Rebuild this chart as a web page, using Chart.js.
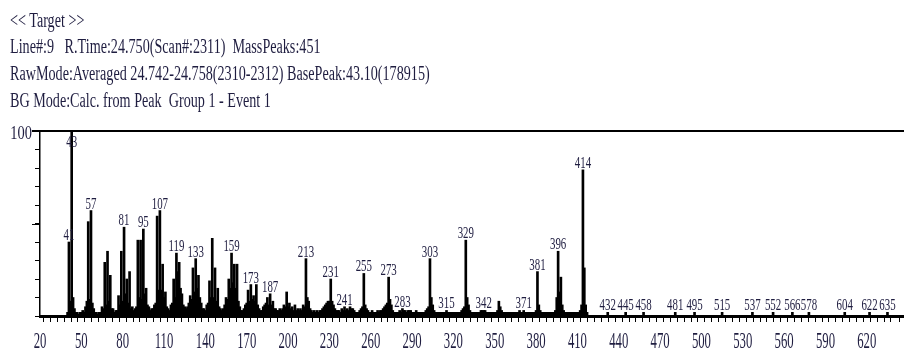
<!DOCTYPE html>
<html>
<head>
<meta charset="utf-8">
<script src="https://cdn.jsdelivr.net/npm/chart.js@4"></script>
<style>
  html, body { margin: 0; padding: 0; background: #fff; }
  #wrap { position: relative; width: 904px; height: 354px; overflow: hidden; }
  #chartBox { position: absolute; left: 0; top: 0; width: 904px; height: 354px; }
  .hdr {
    position: absolute; left: 10px; white-space: pre;
    font-family: "Liberation Serif", "Times New Roman", serif;
    font-size: 20.5px; line-height: 20.5px; color: #1f1d40;
    transform: scaleX(0.69); transform-origin: 0 0;
  }
</style>
</head>
<body>
<div id="wrap">
  <div id="chartBox"><canvas id="msChart"></canvas></div>
  <div class="hdr" style="top:10px">&lt;&lt; Target &gt;&gt;</div>
  <div class="hdr" style="top:36px">Line#:9   R.Time:24.750(Scan#:2311)  MassPeaks:451</div>
  <div class="hdr" style="top:63px">RawMode:Averaged 24.742-24.758(2310-2312) BasePeak:43.10(178915)</div>
  <div class="hdr" style="top:90px">BG Mode:Calc. from Peak  Group 1 - Event 1</div>
</div>
<script>
// m/z values and relative intensities (%)
const mzValues = [
  40,41,42,43,44,45,46,47,48,49,50,51,52,53,54,55,56,57,58,59,
  60,61,62,63,64,65,66,67,68,69,70,71,72,73,74,75,76,77,78,79,
  80,81,82,83,84,85,86,87,88,89,90,91,92,93,94,95,96,97,98,99,
  100,101,102,103,104,105,106,107,108,109,110,111,112,113,114,115,116,117,118,119,
  120,121,122,123,124,125,126,127,128,129,130,131,132,133,134,135,136,137,138,139,
  140,141,142,143,144,145,146,147,148,149,150,151,152,153,154,155,156,157,158,159,
  160,161,162,163,164,165,166,167,168,169,170,171,172,173,174,175,176,177,178,179,
  180,181,182,183,184,185,186,187,188,189,190,191,192,193,194,195,196,197,198,199,
  200,201,202,203,204,205,206,207,208,209,210,211,212,213,214,215,216,217,218,219,
  220,221,222,223,224,225,226,227,228,229,230,231,232,233,234,235,236,237,238,239,
  240,241,242,243,244,245,246,247,248,249,250,251,252,253,254,255,256,257,258,259,
  260,261,262,263,264,265,266,267,268,269,270,271,272,273,274,275,276,277,278,279,
  280,281,282,283,284,285,286,287,288,289,290,291,292,293,294,295,296,297,298,299,
  300,301,302,303,304,305,306,307,308,309,310,311,312,313,314,315,316,317,318,319,
  320,321,322,323,324,325,326,327,328,329,330,331,332,333,334,335,336,337,338,339,
  340,341,342,343,344,345,346,347,348,349,350,351,352,353,354,355,356,357,358,359,
  360,361,362,363,364,365,366,367,368,369,370,371,372,373,374,375,376,377,378,379,
  380,381,382,383,384,385,386,387,388,389,390,391,392,393,394,395,396,397,398,399,
  400,401,402,403,404,405,406,407,408,409,410,411,412,413,414,415,416,417,
  432,445,458,481,495,515,537,552,566,578,604,622,635
];
const intensities = [
  2,40,8,100,10,4,2,2,1,2, 2,3,2,5,8,51,9,57,7,4,
  2,2,1,2,2,5,4,29,6,35, 8,22,4,4,2,3,3,11,6,35,
  8,48,12,20,7,24,4,5,3,4, 5,41,10,41,9,47,12,15,6,5,
  3,4,4,6,7,54,14,57,14,28, 10,13,5,4,3,6,7,20,10,34,
  24,29,15,12,6,5,4,5,7,11, 9,26,13,31,15,22,10,7,4,4,
  3,6,7,19,10,42,10,26,8,15, 5,4,3,4,6,10,9,20,15,34,
  18,28,15,28,8,5,3,3,4,6, 7,14,8,17,9,11,8,17,6,4,
  3,3,5,6,7,10,6,12,6,8, 4,4,3,3,4,3,4,6,5,13,
  5,7,4,5,3,6,3,4,3,4, 3,6,5,31,10,8,4,3,2,3,
  2,3,2,3,3,4,5,6,7,8, 8,20,8,6,4,3,3,3,2,4,
  3,5,3,4,3,5,4,4,3,2, 2,2,3,4,5,23,6,4,3,2,
  2,3,2,2,2,3,2,3,3,4, 5,6,7,21,9,6,3,2,2,2,
  2,3,2,4,3,3,2,3,3,3, 2,2,2,3,2,2,2,2,2,2,
  3,4,5,31,10,6,3,2,2,2, 2,2,2,2,2,3,2,2,2,2,
  2,2,2,2,2,2,3,4,5,41, 10,6,3,2,2,2,2,2,2,2,
  3,3,3,3,2,2,2,2,2,2, 2,2,3,8,5,3,2,2,2,2,
  2,2,2,2,2,2,2,2,3,2, 2,3,2,2,2,2,2,2,2,2,
  3,24,6,3,2,2,2,2,2,2, 2,2,2,2,3,10,35,13,21,6,
  3,2,2,2,2,2,2,2,2,2, 2,2,3,6,79,26,6,2,
  2,2,2,2,2,2,2,2,2,2,2,2,2
];
// peaks that carry an m/z label
const labeledPeaks = [41,43,57,81,95,107,119,133,159,173,187,213,231,241,255,273,283,
  303,315,329,342,371,381,396,414,432,445,458,481,495,515,537,552,566,578,604,622,635];
// x tick labels
const xTickLabels = [20,50,80,110,140,170,200,230,260,290,320,350,380,410,440,470,500,530,560,590,620];

const TXT = '#1f1d40';
const SERIF = '"Liberation Serif", "Times New Roman", serif';

function squeezeText(ctx, text, x, y, sx, align) {
  ctx.save();
  ctx.translate(x, y);
  ctx.scale(sx, 1);
  ctx.textAlign = align;
  ctx.fillText(text, 0, 0);
  ctx.restore();
}

const spectrumDecor = {
  id: 'spectrumDecor',
  afterDraw(chart) {
    const ctx = chart.ctx;
    const xs = chart.scales.x, ys = chart.scales.y;
    const area = chart.chartArea;

    // frame top line + longer 50% tick
    ctx.save();
    ctx.strokeStyle = '#000';
    ctx.lineWidth = 2;
    ctx.beginPath();
    ctx.moveTo(32, area.top);
    ctx.lineTo(chart.width, area.top);
    ctx.stroke();
    ctx.lineWidth = 1;
    const y50 = Math.round(ys.getPixelForValue(50)) + 0.5;
    ctx.beginPath();
    ctx.moveTo(area.left - 8, y50);
    ctx.lineTo(area.left, y50);
    ctx.stroke();
    ctx.restore();

    ctx.save();
    ctx.fillStyle = TXT;
    ctx.textBaseline = 'alphabetic';

    // y label
    ctx.font = '19px ' + SERIF;
    squeezeText(ctx, '100', 32, ys.getPixelForValue(100) + 7.5, 0.76, 'right');

    // x tick labels
    ctx.font = '24px ' + SERIF;
    xTickLabels.forEach(v => {
      squeezeText(ctx, String(v), xs.getPixelForValue(v), 348, 0.53, 'center');
    });

    // peak labels
    ctx.font = '17px ' + SERIF;
    labeledPeaks.forEach(mz => {
      const i = mzValues.indexOf(mz);
      if (i < 0) return;
      const top = ys.getPixelForValue(intensities[i]);
      const yb = Math.max(top - 2, area.top + 16);
      squeezeText(ctx, String(mz), xs.getPixelForValue(mz), yb, 0.64, 'center');
    });
    ctx.restore();
  }
};

new Chart(document.getElementById('msChart'), {
  type: 'bar',
  data: {
    datasets: [{
      data: mzValues.map((m, i) => ({ x: m, y: intensities[i] })),
      backgroundColor: '#000',
      borderWidth: 0,
      barThickness: 2
    }]
  },
  options: {
    responsive: true,
    maintainAspectRatio: false,
    animation: false,
    layout: { padding: { left: 35, top: 131, right: 0, bottom: 32 } },
    plugins: { legend: { display: false }, tooltip: { enabled: false } },
    scales: {
      x: {
        type: 'linear',
        offset: false,
        min: 20,
        max: 647,
        ticks: { display: false, stepSize: 5 },
        grid: { drawOnChartArea: false, drawTicks: true, tickLength: 6, tickColor: '#000', tickWidth: 1 },
        border: { display: true, color: '#000', width: 3 }
      },
      y: {
        min: 0,
        max: 100,
        ticks: { display: false, stepSize: 10 },
        grid: { drawOnChartArea: false, drawTicks: true, tickLength: 5, tickColor: '#000', tickWidth: 1 },
        border: { display: true, color: '#000', width: 1.5 }
      }
    }
  },
  plugins: [spectrumDecor]
});
</script>
</body>
</html>
